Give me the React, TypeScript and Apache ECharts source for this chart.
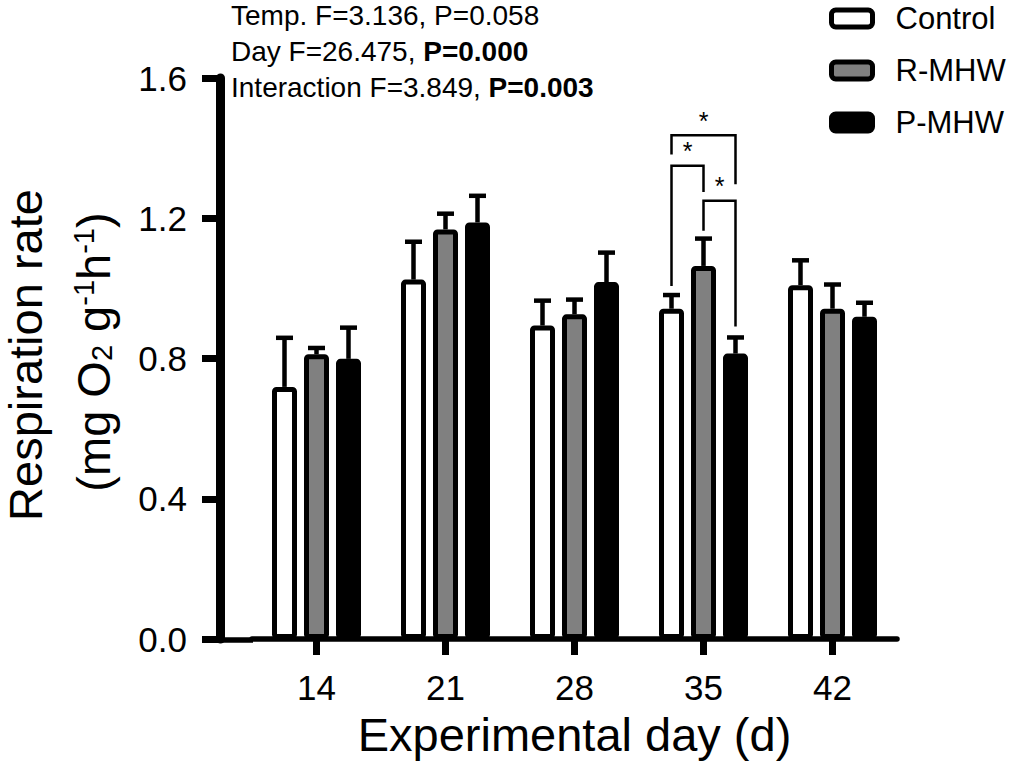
import React, { useEffect, useRef } from "react";
import * as echarts from "echarts";

const categories = ["14", "21", "28", "35", "42"];
const seriesNames = ["Control", "R-MHW", "P-MHW"];
const control = [0.719, 1.025, 0.894, 0.942, 1.009];
const controlSE = [0.14, 0.108, 0.071, 0.039, 0.071];
const rmhw = [0.812, 1.168, 0.926, 1.064, 0.942];
const rmhwSE = [0.018, 0.045, 0.042, 0.078, 0.069];
const pmhw = [0.799, 1.188, 1.018, 0.814, 0.919];
const pmhwSE = [0.089, 0.076, 0.084, 0.046, 0.04];
const yTicks = [0, 0.4, 0.8, 1.2, 1.6];
// significance brackets at day 35: [categoryIndex, fromGroup, toGroup, topY, leftEndY, rightEndY]
const brackets = [
  [3, 0, 2, 1.437, 1.382, 1.297],
  [3, 0, 1, 1.35, 1.007, 1.275],
  [3, 1, 2, 1.25, 1.164, 0.891],
];
const statLines = [
  "Temp. F=3.136, P=0.058",
  "Day F=26.475, {b|P=0.000}",
  "Interaction F=3.849, {b|P=0.003}",
];

const FONT = "'Liberation Sans', Arial, Helvetica, sans-serif";
const BAR_W = 25;
const STEP = 32; // center spacing between bars within a group
const colors = ["#ffffff", "#808080", "#000000"];

export default function App() {
  const ref = useRef<HTMLDivElement>(null);
  useEffect(() => {
    if (!ref.current) return;
    const chart = echarts.init(ref.current, null, { renderer: "svg" });
    const values = [control, rmhw, pmhw];
    const ses = [controlSE, rmhwSE, pmhwSE];

    const barSeries = values.map((vals, k) => ({
      name: seriesNames[k],
      type: "bar",
      data: vals,
      barWidth: BAR_W,
      barGap: "28%",
      z: 3,
      itemStyle: {
        color: colors[k],
        borderColor: "#000",
        borderWidth: 5,
        borderRadius: 2,
      },
    }));

    const errSeries = values.map((vals, k) => ({
      type: "custom",
      z: 1,
      clip: false,
      silent: true,
      data: vals.map((v, i) => [i, v, ses[k][i]]),
      renderItem: (params: any, api: any) => {
        const c = api.value(0);
        const v = api.value(1);
        const e = api.value(2);
        const base = api.coord([c, v]);
        const top = api.coord([c, v + e]);
        const x = base[0] + (k - 1) * STEP;
        return {
          type: "group",
          children: [
            {
              type: "line",
              shape: { x1: x, y1: base[1], x2: x, y2: top[1] },
              style: { stroke: "#000", lineWidth: 4.5 },
            },
            {
              type: "line",
              shape: { x1: x - 8.5, y1: top[1], x2: x + 8.5, y2: top[1] },
              style: { stroke: "#000", lineWidth: 4.5 },
            },
          ],
        };
      },
    }));

    const bracketSeries = {
      type: "custom",
      z: 4,
      clip: false,
      silent: true,
      data: brackets,
      renderItem: (params: any, api: any) => {
        const c = api.value(0);
        const a = api.value(1);
        const b = api.value(2);
        const yTop = api.coord([c, api.value(3)])[1];
        const yL = api.coord([c, api.value(4)])[1];
        const yR = api.coord([c, api.value(5)])[1];
        const cx = api.coord([c, 0])[0];
        const xL = cx + (a - 1) * STEP;
        const xR = cx + (b - 1) * STEP;
        return {
          type: "group",
          children: [
            {
              type: "polyline",
              shape: { points: [[xL, yL], [xL, yTop], [xR, yTop], [xR, yR]] },
              style: { stroke: "#000", lineWidth: 2.5, fill: "none" },
            },
            {
              type: "text",
              x: (xL + xR) / 2,
              y: yTop - 2,
              style: {
                text: "*",
                fontSize: 25,
                fontFamily: FONT,
                fill: "#000",
                align: "center",
                verticalAlign: "bottom",
              },
            },
          ],
        };
      },
    };

    chart.setOption({
      animation: false,
      backgroundColor: "#fff",
      grid: { left: 252, right: 125, top: 78, bottom: 123, containLabel: false },
      legend: {
        data: seriesNames,
        orient: "vertical",
        left: 829,
        top: 3,
        padding: 0,
        itemGap: 21,
        itemWidth: 41,
        itemHeight: 17,
        icon: "roundRect",
        itemStyle: { borderWidth: 5, borderColor: "#000" },
        textStyle: {
          fontSize: 31,
          fontFamily: FONT,
          color: "#000",
          padding: [0, 0, 0, 18],
        },
      },
      xAxis: {
        type: "category",
        data: categories,
        name: "Experimental day (d)",
        nameLocation: "middle",
        nameGap: 72,
        nameTextStyle: { fontSize: 47, fontFamily: FONT, color: "#000" },
        axisLine: { show: true, lineStyle: { color: "#000", width: 5.5 } },
        axisTick: {
          show: true,
          alignWithLabel: true,
          length: 16,
          lineStyle: { color: "#000", width: 7 },
        },
        axisLabel: { fontSize: 35, fontFamily: FONT, color: "#000", margin: 31 },
      },
      yAxis: {
        type: "value",
        min: yTicks[0],
        max: yTicks[yTicks.length - 1],
        interval: 0.4,
        offset: 32,
        splitLine: { show: false },
        axisLine: { show: true, lineStyle: { color: "#000", width: 9 } },
        axisTick: { show: true, length: 18, lineStyle: { color: "#000", width: 7 } },
        axisLabel: {
          fontSize: 35,
          fontFamily: FONT,
          color: "#000",
          margin: 33,
          formatter: (v: number) => v.toFixed(1),
        },
      },
      graphic: [
        {
          type: "line",
          shape: { x1: 217.5, y1: 640, x2: 253, y2: 640 },
          style: { stroke: "#000", lineWidth: 5.5 },
        },
        {
          type: "text",
          x: 25,
          y: 355,
          rotation: Math.PI / 2,
          style: {
            text: "Respiration rate",
            fontSize: 47,
            fontFamily: FONT,
            fill: "#000",
            align: "center",
            verticalAlign: "middle",
          },
        },
        {
          type: "text",
          x: 93,
          y: 352,
          rotation: Math.PI / 2,
          style: {
            text: "(mg O{sub|2} g{sup|-1}h{sup|-1})",
            fontSize: 47,
            fontFamily: FONT,
            fill: "#000",
            align: "center",
            verticalAlign: "middle",
            rich: {
              sub: { fontSize: 29, fontFamily: FONT, verticalAlign: "bottom", fill: "#000" },
              sup: { fontSize: 29, fontFamily: FONT, verticalAlign: "top", fill: "#000" },
            },
          },
        },
        ...statLines.map((t, i) => ({
          type: "text",
          x: 231,
          y: [15, 51, 87][i],
          style: {
            text: t,
            fontSize: 28,
            fontFamily: FONT,
            fill: "#000",
            align: "left",
            verticalAlign: "middle",
            rich: {
              b: { fontSize: 28, fontFamily: FONT, fontWeight: "bold", fill: "#000" },
            },
          },
        })),
      ],
      series: [...barSeries, ...errSeries, bracketSeries],
    });
    return () => chart.dispose();
  }, []);
  return (
    <div
      ref={ref}
      style={{ position: "absolute", left: 0, top: 0, width: 1022, height: 763 }}
    />
  );
}
